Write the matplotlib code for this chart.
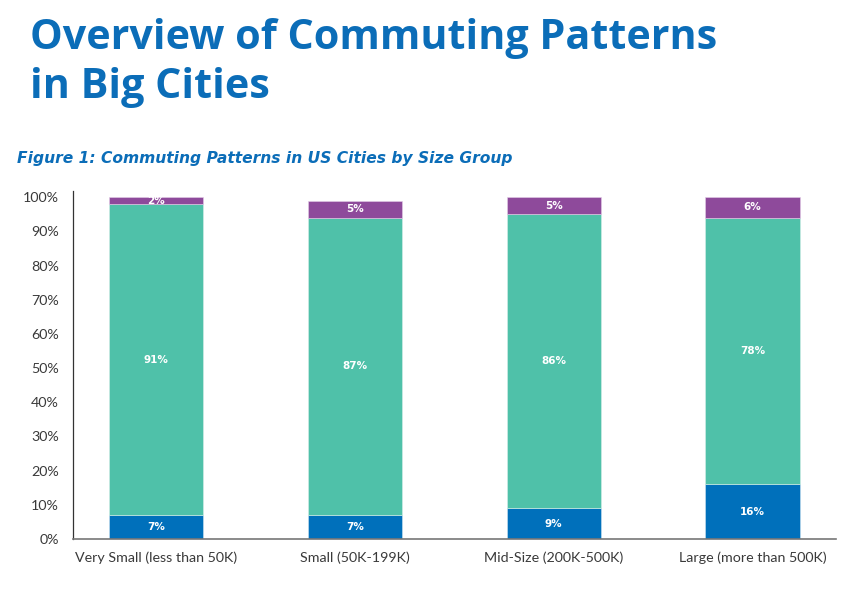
import matplotlib
matplotlib.use("Agg")
import matplotlib.pyplot as plt
import numpy as np

plt.rcParams['font.family'] = ['Lato', 'DejaVu Sans']

categories = ["Very Small (less than 50K)", "Small (50K-199K)",
              "Mid-Size (200K-500K)", "Large (more than 500K)"]
seg_bottom = [7, 7, 9, 16]     # blue
seg_middle = [91, 87, 86, 78]  # teal
seg_top = [2, 5, 5, 6]         # purple
yticks = [0, 10, 20, 30, 40, 50, 60, 70, 80, 90, 100]

c_blue = "#0070BB"
c_teal = "#4FC1A9"
c_purple = "#8E4A9B"
c_title = "#0B6DB8"

W, H = 867, 606
fig = plt.figure(figsize=(W / 100, H / 100), dpi=100)
fig.patch.set_facecolor("white")

ax_l, ax_r, ax_t, ax_b = 73, 836, 191, 539
ax = fig.add_axes([ax_l / W, 1 - ax_b / H, (ax_r - ax_l) / W, (ax_b - ax_t) / H])

x = np.arange(len(categories))
width = 0.473
b = np.array(seg_bottom, float)
m = np.array(seg_middle, float)
t = np.array(seg_top, float)

ax.bar(x, b, width, color=c_blue, edgecolor="#cfe3f0", linewidth=0.4)
ax.bar(x, m, width, bottom=b, color=c_teal, edgecolor="#d7efe9", linewidth=0.4)
ax.bar(x, t, width, bottom=b + m, color=c_purple, edgecolor="#e3cfe8", linewidth=0.4)

for i in range(len(x)):
    for val, base in ((b[i], 0), (m[i], b[i]), (t[i], b[i] + m[i])):
        ax.text(x[i], base + val / 2, f"{int(val)}%", ha="center", va="center",
                color="white", fontsize=7.5, fontweight="bold", family="DejaVu Sans")

ax.set_xlim(-0.418, 3.42)
ax.set_ylim(0, 101.8)
ax.set_yticks(yticks)
ax.set_yticklabels([f"{v}%" for v in yticks])
ax.set_xticks(x)
ax.set_xticklabels(categories)
ax.tick_params(axis="both", length=0, labelsize=10.3, colors="#3a3a3a")
ax.tick_params(axis="y", pad=10)
ax.tick_params(axis="x", pad=9)

for s in ("top", "right"):
    ax.spines[s].set_visible(False)
ax.spines["left"].set_color("#333333")
ax.spines["left"].set_linewidth(0.9)
ax.spines["bottom"].set_color("#777777")
ax.spines["bottom"].set_linewidth(1.2)

renderer = fig.canvas.get_renderer()

def fitted(xpx, ypx, s, target_w, **kw):
    txt = fig.text(xpx / W, 1 - ypx / H, s, ha="left", va="baseline", **kw)
    w = txt.get_window_extent(renderer).width
    txt.set_fontsize(txt.get_fontsize() * target_w / w)
    return txt

t1 = fitted(30, 49, "Overview of Commuting Patterns", 686, fontsize=28,
            fontweight="bold", color=c_title, family="Open Sans")
fig.text(30 / W, 1 - 98 / H, "in Big Cities", fontsize=t1.get_fontsize(),
         fontweight="bold", color=c_title, ha="left", va="baseline", family="Open Sans")
fitted(17, 163, "Figure 1: Commuting Patterns in US Cities by Size Group", 493,
       fontsize=11, fontweight="bold", fontstyle="italic", color=c_title,
       family="DejaVu Sans")

fig.savefig("out.png", dpi=100, facecolor="white")
